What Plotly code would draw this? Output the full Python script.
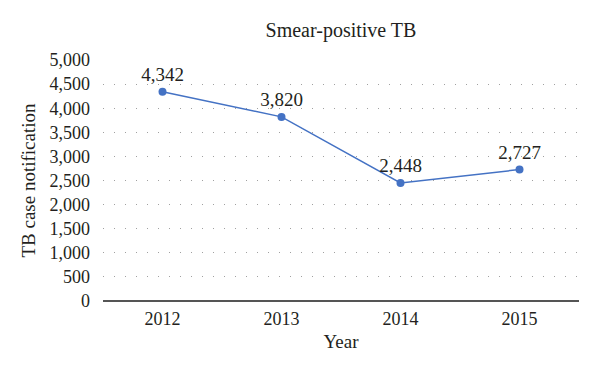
import plotly.graph_objects as go

years = ["2012", "2013", "2014", "2015"]
cases = [4342, 3820, 2448, 2727]
labels = ["4,342", "3,820", "2,448", "2,727"]
ytick_vals = [0, 500, 1000, 1500, 2000, 2500, 3000, 3500, 4000, 4500, 5000]
ytick_text = ["0", "500", "1,000", "1,500", "2,000", "2,500", "3,000", "3,500", "4,000", "4,500", "5,000"]

FONT = "Liberation Serif, Times New Roman, serif"
TXT = "#231f20"

fig = go.Figure()
fig.add_trace(go.Scatter(
    x=years, y=cases, mode="lines+markers+text",
    text=labels, textposition="top center",
    textfont=dict(family=FONT, size=19, color=TXT),
    line=dict(color="#4472C4", width=1.5),
    marker=dict(color="#4472C4", size=8),
    hoverinfo="skip", cliponaxis=False,
))

fig.update_layout(
    width=600, height=373,
    margin=dict(l=95, r=29, t=52, b=80, autoexpand=False),
    paper_bgcolor="white", plot_bgcolor="white",
    showlegend=False,
    font=dict(family=FONT, color=TXT, size=18),
    title=dict(text="Smear-positive TB", x=0.5, xref="paper", xanchor="center",
               y=1 - 22 / 373, yref="container", yanchor="middle", automargin=False,
               font=dict(family=FONT, size=20, color=TXT)),
)
fig.update_xaxes(
    type="category", range=[-0.5, 3.5], automargin=False,
    showgrid=False, showline=False, zeroline=False,
    ticks="", ticklabelstandoff=5,
    tickfont=dict(family=FONT, size=18, color=TXT),
    title=dict(text="Year", font=dict(family=FONT, size=19, color=TXT), standoff=6),
)
fig.update_yaxes(
    range=[0, 5000], tickvals=ytick_vals, ticktext=ytick_text, automargin=False,
    showgrid=True, gridcolor="#a0a0a0", gridwidth=1, griddash="1px,10px",
    zeroline=True, zerolinecolor="#555555", zerolinewidth=1.5,
    showline=False, ticks="", ticklabelstandoff=12,
    tickfont=dict(family=FONT, size=18, color=TXT),
    title=dict(text="TB case notification", font=dict(family=FONT, size=19, color=TXT), standoff=8),
)

fig.write_html("out.html")
